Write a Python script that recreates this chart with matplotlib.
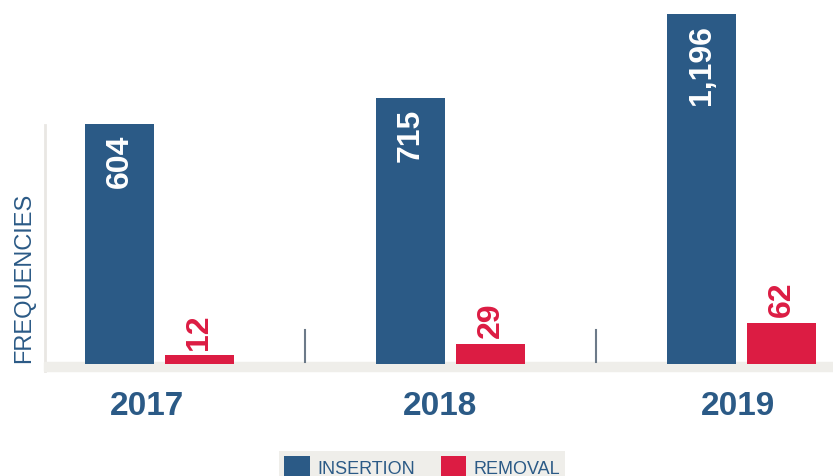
import numpy as np
import matplotlib
matplotlib.use("Agg")
import matplotlib.pyplot as plt
from matplotlib.lines import Line2D
from matplotlib.patches import Rectangle

years = ["2017", "2018", "2019"]
insertion = [604, 715, 1196]
removal = [12, 29, 62]
series_names = ["INSERTION", "REMOVAL"]
ylabel = "FREQUENCIES"

BLUE = "#2b5a86"
RED = "#dc1c43"
GRAY_BAND = "#efeeea"
SEP = "#6c7a89"

W, H = 833, 477
fig = plt.figure(figsize=(W / 100, H / 100), dpi=100)

def fx(px):
    return px / W

def fy(py):
    return 1 - py / H

base_px = 365
ax = fig.add_axes([fx(45), fy(base_px), fx(833 - 45), base_px / H])
ax.set_zorder(1)
ax.patch.set_alpha(0)

# decorative baseline band and left rule
fig.patches.append(Rectangle((fx(44), fy(372)), fx(833 - 44), 9 / H,
                             transform=fig.transFigure, color=GRAY_BAND, zorder=-1))
fig.lines.append(Line2D([fx(45), fx(45)], [fy(126), fy(372)], transform=fig.transFigure,
                        color="#e9e7e3", lw=2, zorder=-1))

C = 300.0
ax.set_yscale("function", functions=(lambda v: np.log1p(np.maximum(v, -299.0) / C),
                                     lambda y: C * np.expm1(y)))

x = np.arange(len(years))
w = 0.237
off = 0.137
b1 = ax.bar(x - off, insertion, w, color=BLUE, label=series_names[0], zorder=3)
b2 = ax.bar(x + off, removal, w, color=RED, label=series_names[1], zorder=3)

ymax = C * np.expm1(np.log1p(1196 / C) * base_px / 350)
ax.set_ylim(0, ymax)
ax.set_xlim(-0.3935, 2.314)

for xi, v in zip(x - off, insertion):
    ax.annotate(f"{v:,}", (xi, v), xytext=(0, -7), textcoords="offset points",
                rotation=90, ha="center", va="top", color="white",
                fontsize=23, fontweight="bold", family="Liberation Sans", zorder=4)
for xi, v in zip(x + off, removal):
    ax.annotate(f"{v:,}", (xi, v), xytext=(0, 5), textcoords="offset points",
                rotation=90, ha="center", va="bottom", color=RED,
                fontsize=23, fontweight="bold", family="Liberation Sans", zorder=4)

# group separators
for s in x[:-1] + 0.5:
    ax.axvline(s, ymin=0.005, ymax=34 / base_px, color=SEP, lw=1.5, zorder=2)

for sp in ax.spines.values():
    sp.set_visible(False)
ax.set_yticks([])
ax.set_xticks(x - np.array([0.043, 0.036, 0.012]))
ax.set_xticklabels(years, fontsize=24, fontweight="bold", color=BLUE, family="Liberation Sans")
ax.tick_params(axis="x", length=0, pad=19)

fig.text(fx(24), fy(278), ylabel, rotation=90, ha="center", va="center",
         fontsize=17, color=BLUE, family="Liberation Sans")

leg = fig.legend(handles=[b1, b2], loc="upper left", bbox_to_anchor=(fx(279), fy(452)),
                 ncol=2, frameon=True, fancybox=False, facecolor=GRAY_BAND, edgecolor="none",
                 framealpha=1, handlelength=1.4, handleheight=1.4,
                 handletextpad=0.4, columnspacing=1.45, borderpad=0.3, borderaxespad=0,
                 prop={"family": "Liberation Sans", "size": 13})
for t in leg.get_texts():
    t.set_color(BLUE)

fig.savefig("out.png", dpi=100)
